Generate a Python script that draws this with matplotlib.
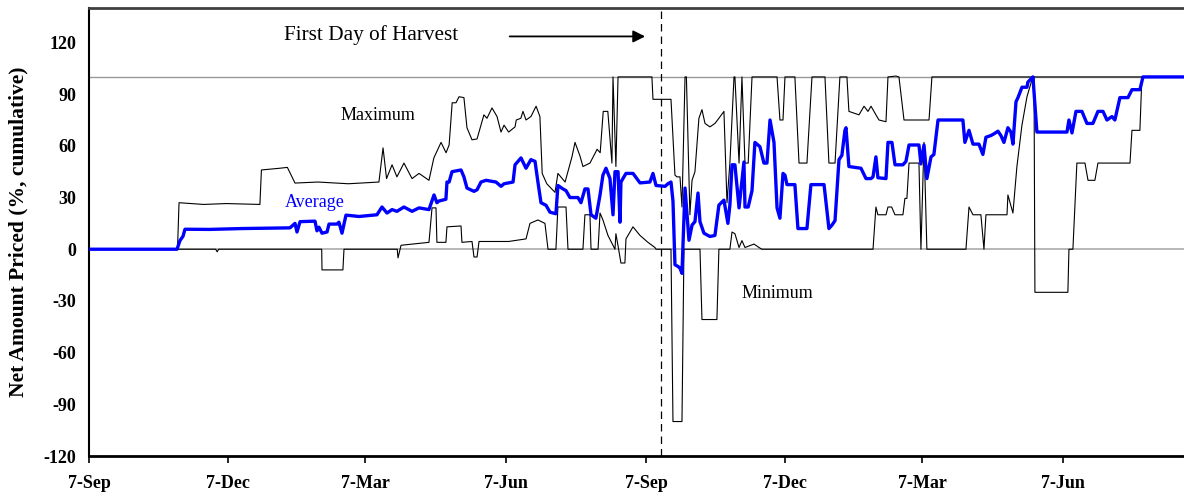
import matplotlib
matplotlib.use('Agg')
import matplotlib.pyplot as plt
import numpy as np
import pandas as pd

# days since 7-Sep of the first season, values in %
max_days = [0, 58, 59, 75, 90, 112, 113, 125, 130, 135, 150, 170, 190, 192.7, 195, 198.6, 201.8, 206.4, 211.7,
            216.3, 222.8, 226, 230.7, 234, 236, 238, 240.5, 242.5, 245.7, 247.7, 251, 254.3, 258.8, 260.8, 264.1,
            267.4, 270, 272, 275, 279.2, 280, 283, 284.4, 286.4, 289.6, 293, 295.5, 297, 300, 305.4, 307.3, 312,
            316.5, 318.5, 321.8, 323.7, 328.3, 333, 335, 337, 340, 342.7, 343.4, 345.3, 346.7, 368.9, 369.6,
            381.4, 384, 385.3, 387.3, 388.6, 390.6, 391.5, 393.8, 395.2, 397.1, 399.7, 401.7, 403.7, 406.9,
            410.2, 412.8, 416.1, 418.1, 420, 422.7, 423.3, 426, 427.9, 429.9, 432, 434.5, 450.9, 452.8, 454.8,
            456.1, 462.6, 465.3, 470.5, 473.8, 482.3, 484.9, 488.9, 492.1, 496.7, 498, 504.6, 507.9, 510.5,
            512.5, 515.7, 517.7, 522.3, 523.6, 528.8, 530.8, 534.1, 550.5, 552.4, 717.6]
max_vals = [0, 0, 27, 26, 26.5, 26, 46, 47, 47.5, 38.4, 39, 38, 39, 58.8, 41, 49, 42, 50, 41,
            44, 40, 53, 62, 56, 60.5, 85, 85, 88.5, 88, 70.5, 63.5, 64, 78, 76, 82,
            77, 68, 72, 68, 71, 75, 76, 80, 75, 77, 83, 77, 44, 38, 33, 44, 39,
            53.6, 62, 54, 48, 50, 58, 56, 80, 80, 50, 100, 48, 100, 100, 87,
            87, 43, 42, 42, 24.5, 100, 100, 20, 40, 45, 76, 81, 73, 71,
            73, 76, 80, 27, 50, 100, 100, 50, 100, 50, 50, 100, 100, 75, 75,
            100, 100, 50, 50, 100, 100, 50, 50, 100, 100, 80, 78, 83, 80,
            83, 78, 75, 74, 100, 100.5, 100, 75, 75, 100, 100]

min_days = [0, 83, 84, 85, 152.5, 152.7, 166.4, 167.1, 202, 202.5, 204.5, 222.8, 224.8, 227.4, 228, 233.9,
            234.6, 243.8, 244.4, 251, 252.3, 254.3, 255.6, 275, 286.4, 289, 294.2, 298.8, 300.8, 306, 307.3,
            312.6, 313.9, 323.7, 325, 328.3, 329, 333.6, 334.9, 336.8, 340.1, 344.7, 345.3, 346.7, 348.6,
            351.2, 351.9, 356.5, 361.1, 366.3, 370.9, 371.6, 381.4, 382.7, 388.6, 389.9, 400.4, 401.7, 411.5,
            412.8, 420, 421.4, 423.3, 426, 427.9, 429.9, 435.8, 439.1, 441, 513.8, 515.7, 517, 522.3, 523.6,
            526, 528.2, 533.4, 534.7, 536, 537.4, 543.9, 545.2, 547.2, 549.1, 574.7, 576.7, 579.3, 584.5,
            586.5, 587.8, 601.6, 602.2, 605.5, 608.1, 611.4, 614.7, 618, 619.3, 619.9, 641.5, 642.2, 644.8,
            647.4, 652.7, 654.7, 659.2, 661.2, 682.2, 683.5, 688.7, 690, 717.6]
min_vals = [0, 0, -1.5, 0, 0, -12, -12, 0, 0, -5, 2.3, 4, 24, 24, 4, 4,
            13, 13.5, 4, 4.5, -4.5, -4.5, 4.5, 4.5, 6, 15, 17, 15, 0, 0, 24.5,
            24.5, 0, 0, 20, 20, 0, 0, 21, 17, 8, 0, 9, 2, -8,
            -8, 6, 13, 8, 4, 1, 0, 0, -100, -100, 0, 0, -40.8, -40.8,
            0, 0, 10, 9, 1, 5, 1, 3, 1, 0, 0, 24.5, 20, 20, 24.5,
            24.5, 20, 20, 29.5, 29.5, 50, 50, 0, 62, 0, 0, 24.5, 20, 20,
            0, 20, 20, 31.5, 21, 48, 72, 88.5, 98.5, 100, -25, -25, 0, 0,
            50, 50, 40, 40, 50, 50, 69, 69, 100, 100]

avg_days = [0, 57.7, 59.6, 61.6, 62.9, 79, 100, 131.7, 135, 136.3, 138.3, 148.1, 149.4, 150.7, 152.7, 156,
            157.3, 162.5, 163.8, 165.8, 168.4, 176.9, 188.7, 192, 195.3, 198.6, 201.8, 206.4, 211.7, 216.3,
            222.8, 226.1, 228, 229.4, 233.9, 234.6, 236, 237.9, 243.8, 245.7, 247.7, 252.3, 254.3, 256.9,
            260.2, 266.7, 270, 272, 277.9, 279.2, 283.1, 286.4, 289.6, 292.3, 294.2, 296.2, 299.5, 302.1,
            306, 307.3, 310.6, 312.6, 315.2, 320.4, 322.4, 325, 327, 329, 332.2, 334.9, 336.8, 338.8, 341.4,
            343.4, 344.7, 346.7, 348, 348.6, 351.9, 356.5, 361.1, 367.6, 369.6, 371.6, 377.5, 379.4, 381.4,
            382.7, 384, 386, 387.3, 388.6, 390.6, 393.2, 395.2, 397.1, 399.1, 400.4, 403, 406.9, 410.2,
            412.8, 416.1, 418.7, 420, 421.4, 423.3, 426, 429.2, 429.9, 432, 434.5, 436.4, 439.7, 442.3,
            444.3, 446.3, 448.9, 450.9, 452.8, 454.8, 456.1, 457.4, 462.6, 464.6, 470.5, 473.1, 481.7,
            484.9, 486.9, 488.9, 491.5, 493.4, 495.4, 496.1, 498, 505.9, 509.2, 512.5, 513.8, 515.7, 517,
            522.3, 523.6, 526.2, 528.2, 533.4, 535.4, 537.4, 543.9, 545.2, 547.2, 549.1, 551.8, 553.7,
            556.4, 572.7, 574, 576.7, 579.3, 583.2, 585.8, 587.8, 591.1, 593.1, 595.7, 597.6, 599.6, 602.2,
            604.2, 605.5, 607.5, 608.8, 611.4, 614.7, 615.3, 618.6, 621.2, 640.9, 642.2, 644.2, 646.8,
            650.7, 654, 657.9, 661.2, 664.5, 667.1, 670.4, 672.3, 675.6, 680.9, 683.5, 688.7, 690.7, 717.6]
avg_vals = [0, 0, 5, 7.5, 11.6, 11.5, 12, 12.4, 15, 10, 16, 16.3, 10.7, 12.8, 9.3, 10,
            14.6, 14.6, 15.7, 9.3, 19.8, 19, 20, 24.5, 21, 23, 22, 24.5, 22, 24,
            23, 31.5, 27, 28, 29, 39, 39, 45, 46, 42, 35.5, 33.6, 34.5, 39,
            40, 39, 36.5, 38, 39, 49, 53, 47, 52, 51, 39, 27, 25.5, 21.5,
            20.6, 37, 35, 34, 30, 30, 27, 35, 35, 20, 18, 31.5, 43, 47, 41,
            20, 45, 45, 15.7, 39, 44, 44, 38.5, 39, 44, 37, 36.5, 38, 39,
            28, -9, -10, -11, -14, 35.5, 5.2, 14, 16, 32.6, 16, 9.3, 7.4, 8,
            25.6, 28.5, 15, 25.6, 49, 49, 24, 50.6, 24.5, 24.5, 34, 62, 59.5, 50,
            50, 75, 62, 24, 18, 44, 43, 37.5, 37.5, 12, 12, 37.5, 37.5,
            12, 14, 16.6, 52, 54.5, 69, 70.5, 48, 47, 41, 41, 42, 53.6, 41.5,
            41, 62, 62, 49, 49, 51, 60.5, 60.5, 49.5, 60.5, 41, 53.6, 55,
            75, 75, 62, 69, 61, 61, 55, 65, 66, 67, 68.5, 66, 62, 70.5,
            68, 61, 85.6, 88, 94, 94, 97, 100, 68, 68, 75, 67.5, 80,
            80, 73, 73, 80, 80, 75, 77, 75, 88, 88, 92.6, 92.6, 100, 100]

start = pd.Timestamp('2001-09-07')
harvest_day = pd.Timestamp('2002-09-17')
tick_dates = ['2001-09-07', '2001-12-07', '2002-03-07', '2002-06-07',
              '2002-09-07', '2002-12-07', '2003-03-07', '2003-06-07']
tick_labels = ['7-Sep', '7-Dec', '7-Mar', '7-Jun', '7-Sep', '7-Dec', '7-Mar', '7-Jun']
yticks = [-120, -90, -60, -30, 0, 30, 60, 90, 120]

def to_dates(days):
    return start + pd.to_timedelta(np.array(days), unit='D')

plt.rcParams['axes.unicode_minus'] = False
serif = ['Liberation Serif', 'DejaVu Serif']

fig = plt.figure(figsize=(11.84, 4.98), dpi=100)
ax = fig.add_axes([89/1184, 42/498, 1095/1184, 448/498])

ax.axhline(0, color='#aaaaaa', lw=1.2, zorder=1)
ax.axhline(100, color='#999999', lw=1.0, zorder=1)

ax.plot(to_dates(max_days), max_vals, color='black', lw=0.8, zorder=2)
ax.plot(to_dates(min_days), min_vals, color='black', lw=0.8, zorder=2)
ax.plot(to_dates(avg_days), avg_vals, color='#0000ff', lw=2.4, zorder=3)

ax.axvline(harvest_day, color='black', lw=0.9, ls=(0, (6, 4)), zorder=2)

ax.set_xlim(start, start + pd.Timedelta(days=717.6))
ax.set_ylim(-120, 140)
ax.set_yticks(yticks)
ax.set_xticks(pd.to_datetime(tick_dates))
ax.set_xticklabels(tick_labels)

for lab in ax.get_xticklabels() + ax.get_yticklabels():
    lab.set_family(serif)
    lab.set_fontweight('bold')
    lab.set_fontsize(13)
ax.tick_params(axis='y', length=0, pad=9)
ax.tick_params(axis='x', length=5, width=1.2, direction='out', pad=9)

ax.spines['right'].set_visible(False)
ax.spines['top'].set_color('#404040')
ax.spines['top'].set_linewidth(2)
ax.spines['left'].set_linewidth(1.5)
ax.spines['bottom'].set_linewidth(2)

ax.set_ylabel('Net Amount Priced (%, cumulative)', family=serif, fontweight='bold',
              fontsize=15.5, labelpad=11)

ax.text(start + pd.Timedelta(days=127.8), 124.3, 'First Day of Harvest', family=serif,
        fontsize=15.3, va='center', ha='left')
ax.annotate('', xy=(start + pd.Timedelta(days=366.3), 123.5),
            xytext=(start + pd.Timedelta(days=273.9), 123.5),
            arrowprops=dict(arrowstyle='-|>', color='black', lw=1.3, mutation_scale=18))
ax.text(start + pd.Timedelta(days=189.4), 77.5, 'Maximum', family=serif, fontsize=13,
        ha='center', va='center')
ax.text(start + pd.Timedelta(days=148), 27, 'Average', family=serif, fontsize=13,
        ha='center', va='center', color='#0000ff')
ax.text(start + pd.Timedelta(days=450.9), -25.5, 'Minimum', family=serif, fontsize=13,
        ha='center', va='center')

fig.savefig('out.png', dpi=100)
